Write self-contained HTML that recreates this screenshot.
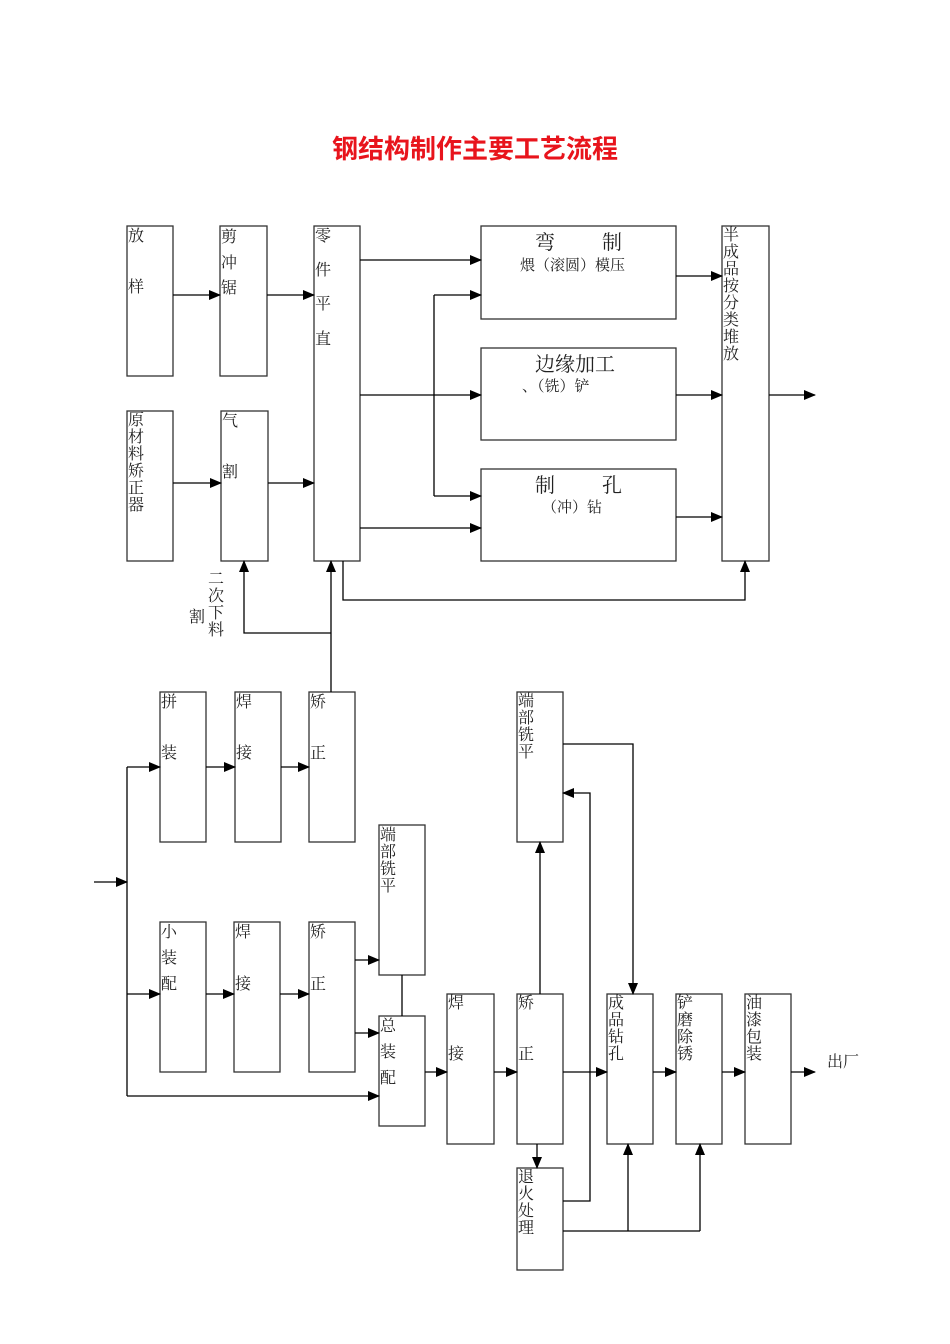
<!DOCTYPE html>
<html><head><meta charset="utf-8"><style>
html,body{margin:0;padding:0;background:#fff;}
svg{display:block;}
text{font-family:"Liberation Serif","Noto Serif CJK SC","Noto Sans CJK SC",serif;fill:#222;}
</style></head><body>
<svg width="950" height="1344" viewBox="0 0 950 1344" xmlns="http://www.w3.org/2000/svg">
<defs><marker id="a" markerWidth="12" markerHeight="12" refX="11" refY="5" orient="auto" markerUnits="userSpaceOnUse"><path d="M0,0 L12,5 L0,10 z" fill="#000"/></marker></defs>
<text x="475" y="158" text-anchor="middle" style="font-family:'Liberation Sans','Noto Sans CJK SC',sans-serif;font-weight:bold;font-size:26px;fill:#e8141c">钢结构制作主要工艺流程</text>
<g fill="none" stroke="#333" stroke-width="1.3">
<rect x="127" y="226" width="46" height="150"/>
<rect x="220" y="226" width="47" height="150"/>
<rect x="127" y="411" width="46" height="150"/>
<rect x="221" y="411" width="47" height="150"/>
<rect x="314" y="226" width="46" height="335"/>
<rect x="481" y="226" width="195" height="93"/>
<rect x="481" y="348" width="195" height="92"/>
<rect x="481" y="469" width="195" height="92"/>
<rect x="722" y="226" width="47" height="335"/>
<rect x="160" y="692" width="46" height="150"/>
<rect x="235" y="692" width="46" height="150"/>
<rect x="309" y="692" width="46" height="150"/>
<rect x="160" y="922" width="46" height="150"/>
<rect x="234" y="922" width="46" height="150"/>
<rect x="309" y="922" width="46" height="150"/>
<rect x="379" y="825" width="46" height="150"/>
<rect x="379" y="1016" width="46" height="110"/>
<rect x="447" y="994" width="47" height="150"/>
<rect x="517" y="994" width="46" height="150"/>
<rect x="517" y="692" width="46" height="150"/>
<rect x="517" y="1168" width="46" height="102"/>
<rect x="607" y="994" width="46" height="150"/>
<rect x="676" y="994" width="46" height="150"/>
<rect x="745" y="994" width="46" height="150"/>
</g>
<g fill="none" stroke="#000" stroke-width="1.3" marker-end="url(#a)">
<line x1="173" y1="295" x2="220" y2="295"/>
<line x1="267" y1="295" x2="314" y2="295"/>
<line x1="173" y1="483" x2="221" y2="483"/>
<line x1="268" y1="483" x2="314" y2="483"/>
<line x1="360" y1="260" x2="481" y2="260"/>
<line x1="360" y1="395" x2="481" y2="395"/>
<line x1="360" y1="528" x2="481" y2="528"/>
<line x1="434" y1="295" x2="481" y2="295"/>
<line x1="434" y1="496" x2="481" y2="496"/>
<line x1="676" y1="276" x2="722" y2="276"/>
<line x1="676" y1="395" x2="722" y2="395"/>
<line x1="676" y1="517" x2="722" y2="517"/>
<line x1="769" y1="395" x2="815" y2="395"/>
<polyline points="343,561 343,600 745,600 745,561"/>
<line x1="331" y1="692" x2="331" y2="561"/>
<polyline points="331,633 244,633 244,561"/>
<line x1="94" y1="882" x2="127" y2="882"/>
<line x1="127" y1="767" x2="160" y2="767"/>
<line x1="206" y1="767" x2="235" y2="767"/>
<line x1="281" y1="767" x2="309" y2="767"/>
<line x1="127" y1="994" x2="160" y2="994"/>
<line x1="206" y1="994" x2="234" y2="994"/>
<line x1="280" y1="994" x2="309" y2="994"/>
<line x1="355" y1="960" x2="379" y2="960"/>
<line x1="355" y1="1033" x2="379" y2="1033"/>
<polyline points="127,1096 379,1096"/>
<line x1="425" y1="1072" x2="447" y2="1072"/>
<line x1="494" y1="1072" x2="517" y2="1072"/>
<line x1="540" y1="994" x2="540" y2="842"/>
<polyline points="563,744 633,744 633,994"/>
<line x1="537" y1="1144" x2="537" y2="1168"/>
<polyline points="563,1201 590,1201 590,793 563,793"/>
<line x1="563" y1="1072" x2="607" y2="1072"/>
<line x1="653" y1="1072" x2="676" y2="1072"/>
<line x1="722" y1="1072" x2="745" y2="1072"/>
<line x1="791" y1="1072" x2="815" y2="1072"/>
<line x1="628" y1="1231" x2="628" y2="1144"/>
<line x1="700" y1="1231" x2="700" y2="1144"/>
</g>
<g fill="none" stroke="#000" stroke-width="1.3">
<line x1="434" y1="295" x2="434" y2="496"/>
<line x1="127" y1="767" x2="127" y2="1096"/>
<line x1="402" y1="975" x2="402" y2="1016"/>
<line x1="563" y1="1231" x2="700" y2="1231"/>
</g>
<g font-size="16">
<text x="128" y="241">放</text><text x="128" y="292">样</text>
<text x="221" y="242">剪</text><text x="221" y="268">冲</text><text x="221" y="293">锯</text>
<text x="315" y="241">零</text><text x="315" y="275">件</text><text x="315" y="309">平</text><text x="315" y="344">直</text>
<text x="128" y="425">原</text><text x="128" y="442">材</text><text x="128" y="459">料</text><text x="128" y="476">矫</text><text x="128" y="493">正</text><text x="128" y="510">器</text>
<text x="222" y="426">气</text><text x="222" y="477">割</text>
<text x="723" y="240">半</text><text x="723" y="257">成</text><text x="723" y="274">品</text><text x="723" y="291">按</text><text x="723" y="308">分</text><text x="723" y="325">类</text><text x="723" y="342">堆</text><text x="723" y="359">放</text>
<text x="208" y="584">二</text><text x="208" y="601">次</text><text x="208" y="618">下</text><text x="208" y="635">料</text><text x="189" y="622">割</text>
<text x="161" y="707">拼</text><text x="161" y="758">装</text>
<text x="236" y="707">焊</text><text x="236" y="758">接</text>
<text x="310" y="707">矫</text><text x="310" y="758">正</text>
<text x="161" y="937">小</text><text x="161" y="963">装</text><text x="161" y="989">配</text>
<text x="235" y="937">焊</text><text x="235" y="989">接</text>
<text x="310" y="937">矫</text><text x="310" y="989">正</text>
<text x="380" y="840">端</text><text x="380" y="857">部</text><text x="380" y="874">铣</text><text x="380" y="891">平</text>
<text x="380" y="1031">总</text><text x="380" y="1057">装</text><text x="380" y="1083">配</text>
<text x="448" y="1008">焊</text><text x="448" y="1059">接</text>
<text x="518" y="1008">矫</text><text x="518" y="1059">正</text>
<text x="518" y="706">端</text><text x="518" y="723">部</text><text x="518" y="740">铣</text><text x="518" y="757">平</text>
<text x="518" y="1182">退</text><text x="518" y="1199">火</text><text x="518" y="1216">处</text><text x="518" y="1233">理</text>
<text x="608" y="1008">成</text><text x="608" y="1025">品</text><text x="608" y="1042">钻</text><text x="608" y="1059">孔</text>
<text x="677" y="1008">铲</text><text x="677" y="1025">磨</text><text x="677" y="1042">除</text><text x="677" y="1059">锈</text>
<text x="746" y="1008">油</text><text x="746" y="1025">漆</text><text x="746" y="1042">包</text><text x="746" y="1059">装</text>
<text x="827" y="1067">出厂</text>
</g>
<g font-size="20">
<text x="535" y="249">弯</text><text x="602" y="249">制</text>
<text x="535" y="371">边缘加工</text>
<text x="535" y="492">制</text><text x="602" y="492">孔</text>
</g>
<g font-size="15">
<text x="520" y="270">煨（滚圆）模压</text>
<text x="522" y="391">、（铣）铲</text>
<text x="542" y="512">（冲）钻</text>
</g>
</svg>
</body></html>
